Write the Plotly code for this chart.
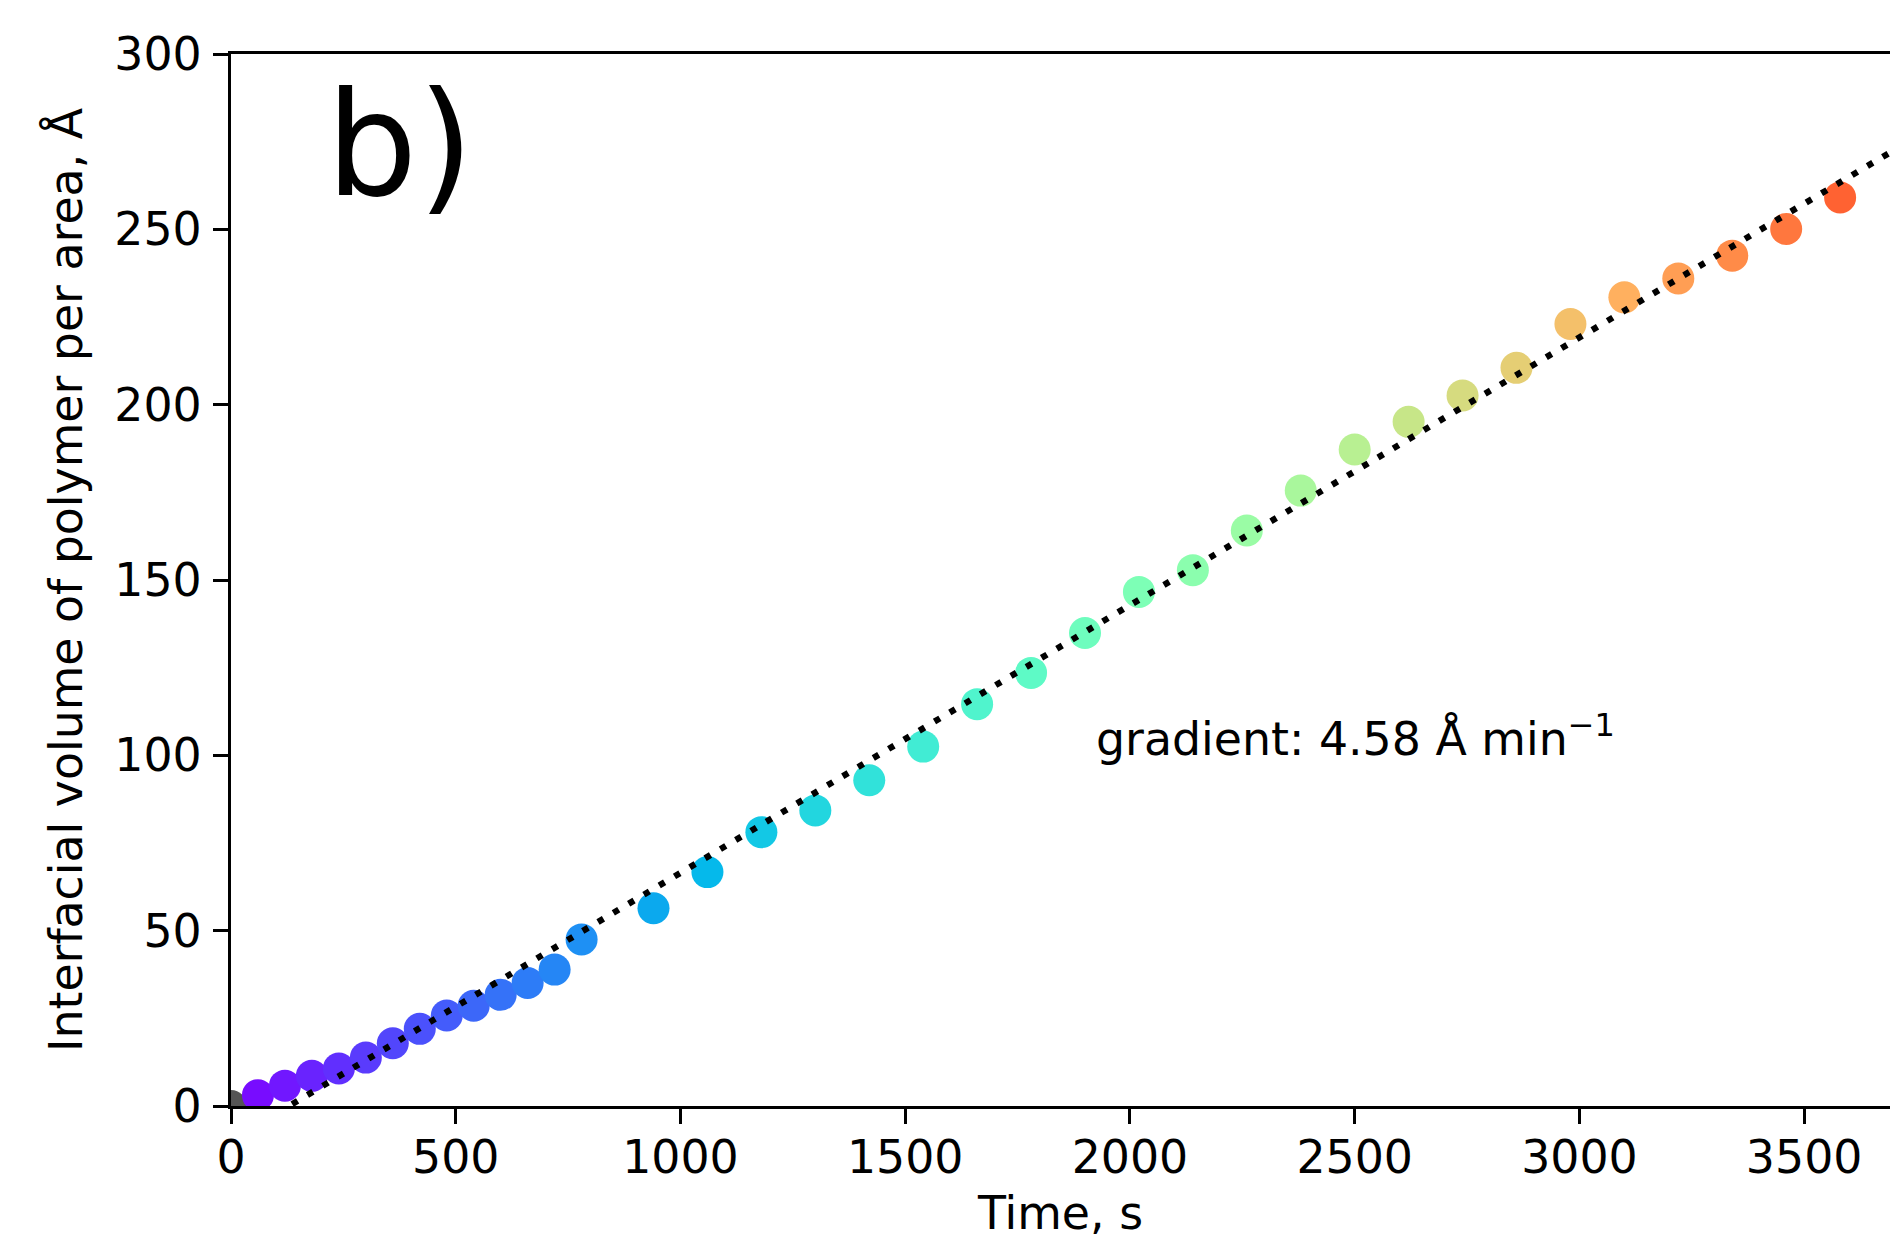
import plotly.graph_objects as go
import numpy as np

# ---- data ----
time_s = [60, 120, 180, 240, 300, 360, 420, 480, 540, 600, 660, 720, 780,
          940, 1060, 1180, 1300, 1420, 1540, 1660, 1780, 1900, 2020, 2140,
          2260, 2380, 2500, 2620, 2740, 2860, 2980, 3100, 3220, 3340, 3460, 3580]
volume_A = [3.1, 5.8, 8.6, 10.7, 13.8, 17.9, 22.0, 25.8, 28.6, 31.7, 35.1, 38.9, 47.5,
            56.4, 66.7, 78.1, 84.3, 92.9, 102.5, 114.6, 123.5, 134.9, 146.6, 152.8,
            164.1, 175.5, 187.2, 195.1, 202.6, 210.5, 223.0, 230.6, 236.0, 242.5, 250.1, 259.1]
origin_t = [0]
origin_v = [0]

gradient_A_per_min = 4.58
fit_t0 = 129           # x-intercept of fit line, s
fit_span = [0, 3700]   # time span of fit line

x_ticks = [0, 500, 1000, 1500, 2000, 2500, 3000, 3500]
y_ticks = [0, 50, 100, 150, 200, 250, 300]

# ---- matplotlib "rainbow" colormap as plotly colorscale ----
def rainbow(v):
    r = min(1.0, abs(2 * v - 0.5))
    g = np.sin(np.pi * v)
    b = np.cos(np.pi / 2 * v)
    return f"rgb({int(round(r*255))},{int(round(g*255))},{int(round(b*255))})"

cs = [[i / 40, rainbow(i / 40)] for i in range(41)]

FONT = "DejaVu Sans"
FS = 45.8
slope = gradient_A_per_min / 60.0
fit_y = [slope * (t - fit_t0) for t in fit_span]

fig = go.Figure()
fig.add_trace(go.Scatter(x=origin_t, y=origin_v, mode="markers",
                         marker=dict(size=32, color="#555555", line=dict(width=0)),
                         showlegend=False, cliponaxis=True))
fig.add_trace(go.Scatter(x=time_s, y=volume_A, mode="markers",
                         marker=dict(size=32, color=time_s, colorscale=cs,
                                     cmin=0, cmax=4091, line=dict(width=0)),
                         showlegend=False, cliponaxis=True))
fig.add_trace(go.Scatter(x=fit_span, y=fit_y, mode="lines",
                         line=dict(color="black", width=6.3, dash="6.3px,11.5px"),
                         showlegend=False))

fig.add_annotation(x=208, y=249.6, xref="x", yref="y", text="b)",
                   showarrow=False, xanchor="left", yanchor="bottom",
                   font=dict(family=FONT, size=144, color="black"))
fig.add_annotation(x=1920, y=96.3, xref="x", yref="y",
                   text="gradient: 4.58 Å min<sup>−1</sup>",
                   showarrow=False, xanchor="left", yanchor="bottom",
                   font=dict(family=FONT, size=FS, color="black"))

fig.update_layout(
    width=1890, height=1240,
    margin=dict(l=231, r=0, t=54, b=134),
    paper_bgcolor="white", plot_bgcolor="white",
    font=dict(family=FONT, size=FS, color="black"),
)
fig.update_xaxes(range=[0, 3691], tickvals=x_ticks, ticktext=[str(v) for v in x_ticks],
                 showgrid=False, zeroline=False, showline=True, linecolor="black",
                 linewidth=3.3, mirror=True, ticks="outside", ticklen=15, tickwidth=3.3,
                 tickcolor="black", ticklabelstandoff=-6, automargin=False,
                 title=dict(text="Time, s", standoff=28, font=dict(size=FS)))
fig.update_yaxes(range=[0, 300], tickvals=y_ticks, ticktext=[str(v) for v in y_ticks],
                 showgrid=False, zeroline=False, showline=True, linecolor="black",
                 linewidth=3.3, mirror=False, ticks="outside", ticklen=15, tickwidth=3.3,
                 tickcolor="black", ticklabelstandoff=2, automargin=False,
                 title=dict(text="Interfacial volume of polymer per area, Å", standoff=18,
                            font=dict(size=FS)))

fig.write_html("out.html",
               config={"displayModeBar": False},
               post_script="document.body.style.margin='0px';"
                           "document.body.style.overflow='hidden';")
